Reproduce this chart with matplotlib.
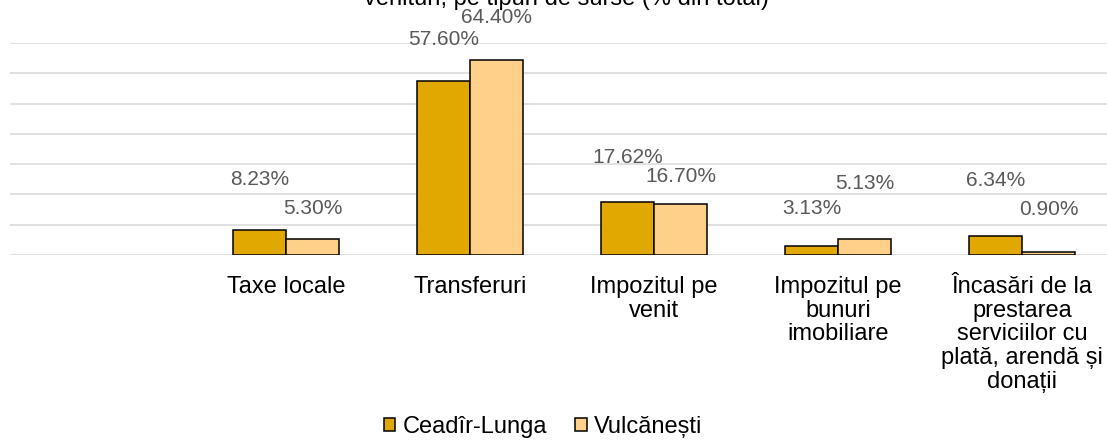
import matplotlib
matplotlib.use('Agg')
import matplotlib.pyplot as plt
from matplotlib.patches import Patch
import numpy as np

plt.rcParams['font.family'] = ['Liberation Sans', 'DejaVu Sans']

# ---- data ----
categories = ['Taxe locale', 'Transferuri', 'Impozitul pe\nvenit',
              'Impozitul pe\nbunuri\nimobiliare',
              'Încasări de la\nprestarea\nserviciilor cu\nplată, arendă și\ndonații']
series_names = ['Ceadîr-Lunga', 'Vulcănești']
ceadir_lunga = [8.23, 57.60, 17.62, 3.13, 6.34]
vulcanesti = [5.30, 64.40, 16.70, 5.13, 0.90]
title_text = 'Structura veniturilor bugetelor locale în funcție de tipul\nvenituri, pe tipuri de surse (% din total)'

# label offsets above bar tops (pixels) - styling
off_c = [51, 41.5, 44.6, 37.5, 55]
off_v = [30, 42.5, 28, 55.5, 43]

col_c = '#E0A800'
col_v = '#FFD08A'
grid_col = '#D9D9D9'
lab_col = '#595959'

fig = plt.figure(figsize=(11.07, 4.41), dpi=100)
ax = fig.add_axes([10 / 1107, 1 - 255 / 441, 1104 / 1107, 212 / 441])

x = np.arange(1, len(categories) + 1)
w = 0.288
bc = ax.bar(x - w / 2, ceadir_lunga, w, color=col_c, edgecolor='black', linewidth=1.1, zorder=3)
bv = ax.bar(x + w / 2, vulcanesti, w, color=col_v, edgecolor='black', linewidth=1.1, zorder=3)

for bars, vals, offs in ((bc, ceadir_lunga, off_c), (bv, vulcanesti, off_v)):
    for b, v, o in zip(bars, vals, offs):
        ax.annotate(f'{v:.2f}%', xy=(b.get_x() + b.get_width() / 2, v),
                    xytext=(0, o), textcoords='offset pixels',
                    ha='center', va='center', fontsize=15, color=lab_col, zorder=4)

ax.set_xlim(-0.5, len(categories) + 0.5)
ax.set_ylim(0, 70)
ax.set_yticks(np.arange(0, 71, 10))
ax.yaxis.grid(True, color=grid_col, linewidth=1.1, zorder=0)
ax.set_axisbelow(True)
ax.set_yticklabels([])
ax.tick_params(axis='y', length=0)
for s in ax.spines.values():
    s.set_visible(False)

ax.set_xticks(x)
ax.set_xticklabels(categories, fontsize=17, linespacing=1.1, color='black')
ax.tick_params(axis='x', length=0, pad=15)

handles = [Patch(facecolor=col_c, edgecolor='black', linewidth=1.1),
           Patch(facecolor=col_v, edgecolor='black', linewidth=1.1)]
fig.legend(handles, series_names, loc='center', bbox_to_anchor=(543 / 1107, 1 - 427 / 441),
           ncol=2, frameon=False, fontsize=17, handlelength=0.5, handleheight=0.5,
           handletextpad=0.3, columnspacing=1.2, borderpad=0)

fig.text(566 / 1107, 1 - 9.5 / 441, title_text, ha='center', va='bottom',
         fontsize=17, color='black', linespacing=1.0)

fig.savefig('out.png', dpi=100)
